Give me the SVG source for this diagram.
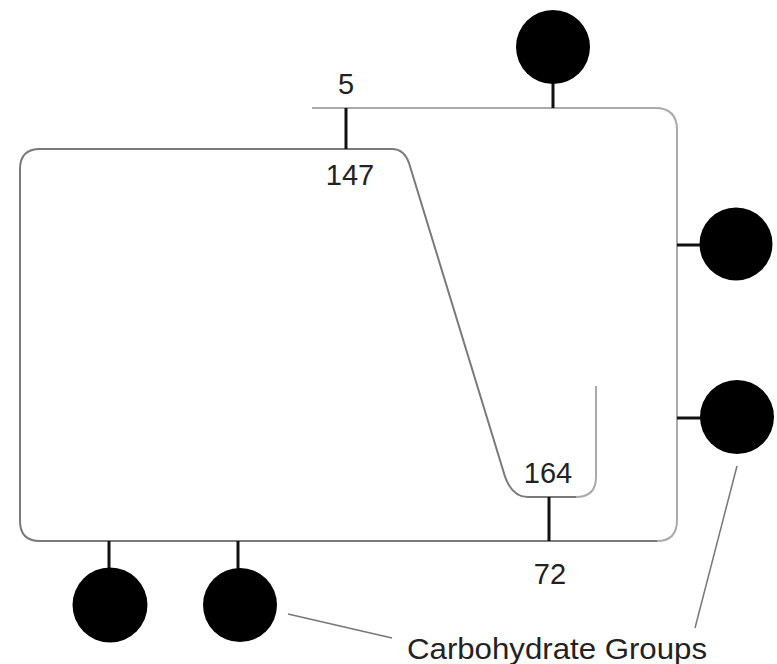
<svg xmlns="http://www.w3.org/2000/svg" width="777" height="664" viewBox="0 0 777 664">
<style>
.ln{fill:none;stroke:#7a7a7a;stroke-width:2}
.lt{fill:none;stroke:#aaaaaa;stroke-width:2}
.st{stroke:#111;stroke-width:3}
.ptr{stroke:#777;stroke-width:1.5}
.c{fill:#000}
text{font-family:"Liberation Sans",Arial,sans-serif;fill:#222}
.n{font-size:29px;text-anchor:middle}
</style>
<rect width="777" height="664" fill="#fff"/>
<g id="connectors">
<path class="lt" d="M312,108 H655 Q677,108 677,130 V520 Q677,541 657,541"/>
<path class="ln" d="M657,541 H40 Q20,541 20,521 V169 Q20,149 40,149 H392 Q404,149 409,163 L503,470 Q510,497 528,497 H576"/>
<path class="lt" d="M576,497 Q596,497 596,477 V386"/>
<line class="st" x1="346" y1="108" x2="346" y2="149"/>
<line class="st" x1="553" y1="82" x2="553" y2="108"/>
<line class="st" x1="677" y1="245" x2="702" y2="245"/>
<line class="st" x1="677" y1="418" x2="702" y2="418"/>
<line class="st" x1="549" y1="497" x2="549" y2="541"/>
<line class="st" x1="109" y1="541" x2="109" y2="570"/>
<line class="st" x1="238" y1="541" x2="238" y2="570"/>
<line class="ptr" x1="288" y1="614" x2="392" y2="638"/>
<line class="ptr" x1="737" y1="466" x2="695" y2="628"/>
</g>
<g id="carb-top"><circle class="c" cx="553" cy="47" r="37"/></g>
<g id="carb-right1"><circle class="c" cx="736" cy="244" r="36.5"/></g>
<g id="carb-right2"><circle class="c" cx="737" cy="417" r="37"/></g>
<g id="carb-bottom1"><circle class="c" cx="110" cy="605" r="37.5"/></g>
<g id="carb-bottom2"><circle class="c" cx="240" cy="605" r="37"/></g>
<g id="labels">
<text class="n" x="346" y="94">5</text>
<text class="n" x="350" y="185">147</text>
<text class="n" x="548" y="483">164</text>
<text class="n" x="550" y="584">72</text>
<text x="407" y="659" font-size="29" textLength="300" lengthAdjust="spacingAndGlyphs">Carbohydrate Groups</text>
</g>
</svg>
